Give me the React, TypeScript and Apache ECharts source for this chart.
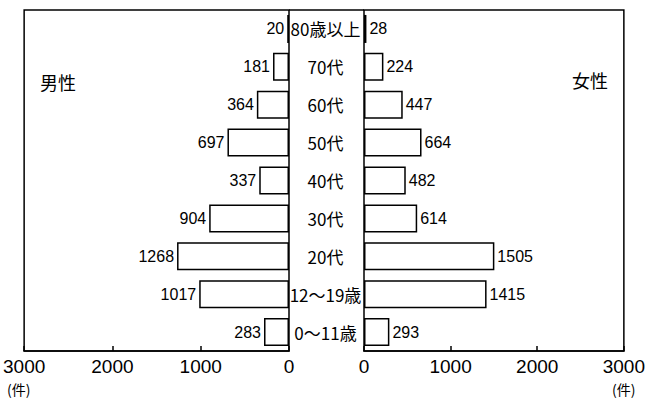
import React, { useEffect, useRef } from "react";
import * as echarts from "echarts";

const categories = ["80歳以上", "70代", "60代", "50代", "40代", "30代", "20代", "12〜19歳", "0〜11歳"];
const maleValues = [20, 181, 364, 697, 337, 904, 1268, 1017, 283];
const femaleValues = [28, 224, 447, 664, 482, 614, 1505, 1415, 293];
const axisMax = 3000;
const axisInterval = 1000;

const NUM_FONT = "'Liberation Sans', Arial, sans-serif";
const JP_FONT = "'Noto Sans CJK JP', sans-serif";

export default function App() {
  const ref = useRef<HTMLDivElement>(null);
  useEffect(() => {
    if (!ref.current) return;
    const chart = echarts.init(ref.current, undefined, { renderer: "svg" });
    const gridTop = 10;
    const gridH = 341;
    const leftX = 24;
    const zeroL = 289;
    const zeroR = 364;
    const rightX = 628;
    const xAxisCommon = {
      type: "value" as const,
      min: 0,
      max: axisMax,
      interval: axisInterval,
      splitLine: { show: false },
      axisLine: { show: true, lineStyle: { color: "#000", width: 1.5 } },
      axisTick: { show: true, inside: true, length: 5, lineStyle: { color: "#000", width: 1.5 } },
      axisLabel: {
        color: "#000",
        fontSize: 19,
        fontFamily: NUM_FONT,
        margin: 6,
        formatter: (v: number) => String(v),
      },
    };
    const barCommon = {
      type: "bar" as const,
      barWidth: 28,
      itemStyle: { color: "#fff", borderColor: "#000", borderWidth: 1.5 },
      label: {
        show: true,
        color: "#000",
        fontSize: 16,
        fontFamily: NUM_FONT,
        distance: 3,
      },
    };
    chart.setOption({
      animation: false,
      backgroundColor: "#fff",
      grid: [
        {
          left: leftX,
          top: gridTop,
          width: zeroL - leftX,
          height: gridH,
          show: true,
          borderColor: "#000",
          borderWidth: 1.5,
          backgroundColor: "transparent",
        },
        {
          left: zeroR,
          top: gridTop,
          width: rightX - zeroR,
          height: gridH,
          show: true,
          borderColor: "#000",
          borderWidth: 1.5,
          backgroundColor: "transparent",
        },
      ],
      xAxis: [
        { ...xAxisCommon, gridIndex: 0, inverse: true },
        { ...xAxisCommon, gridIndex: 1 },
      ],
      yAxis: [
        {
          type: "category",
          gridIndex: 0,
          data: categories,
          inverse: true,
          position: "right",
          axisLine: { show: false },
          axisTick: { show: false },
          axisLabel: { show: false },
        },
        {
          type: "category",
          gridIndex: 1,
          data: categories,
          inverse: true,
          position: "left",
          axisLine: { show: false },
          axisTick: { show: false },
          axisLabel: {
            show: true,
            color: "#000",
            fontSize: 17,
            fontFamily: JP_FONT,
            align: "center",
            margin: (zeroR - zeroL) / 2 + 1,
          },
        },
      ],
      series: [
        {
          ...barCommon,
          name: "男性",
          xAxisIndex: 0,
          yAxisIndex: 0,
          data: maleValues,
          label: { ...barCommon.label, position: "left" },
        },
        {
          ...barCommon,
          name: "女性",
          xAxisIndex: 1,
          yAxisIndex: 1,
          data: femaleValues,
          label: { ...barCommon.label, position: "right" },
        },
      ],
      graphic: [
        {
          type: "line",
          shape: { x1: zeroL, y1: gridTop, x2: zeroR, y2: gridTop },
          style: { stroke: "#000", lineWidth: 1.5 },
        },
        {
          type: "text",
          x: 40,
          y: 82,
          style: { text: "男性", fontSize: 18, fontFamily: JP_FONT, fill: "#000", verticalAlign: "middle" },
        },
        {
          type: "text",
          x: 572,
          y: 80,
          style: { text: "女性", fontSize: 18, fontFamily: JP_FONT, fill: "#000", verticalAlign: "middle" },
        },
        {
          type: "text",
          x: 7,
          y: 389,
          style: { text: "(件)", fontSize: 14, fontFamily: JP_FONT, fill: "#000", verticalAlign: "middle" },
        },
        {
          type: "text",
          x: 612,
          y: 389,
          style: { text: "(件)", fontSize: 14, fontFamily: JP_FONT, fill: "#000", verticalAlign: "middle" },
        },
      ],
    });
    return () => chart.dispose();
  }, []);
  return (
    <div
      ref={ref}
      style={{ position: "fixed", left: 0, top: 0, width: 648, height: 398, background: "#fff" }}
    />
  );
}
